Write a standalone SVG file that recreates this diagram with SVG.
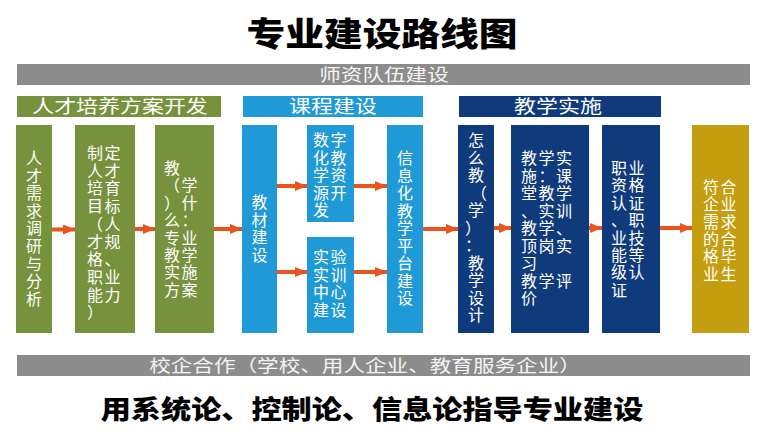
<svg xmlns="http://www.w3.org/2000/svg" width="770" height="438" viewBox="0 0 770 438">
<defs>
<style>
.cjk{font-family:"Noto Sans CJK SC","Noto Sans CJK JP",sans-serif;}
.title{font-size:31px;font-weight:900;fill:#000;}
.bar{fill:#8C8C8C;}
.bartxt{font-size:17px;fill:#F4F4F4;}
.hdr{font-size:18px;fill:#FFFFFF;}
.box{font-size:16px;fill:#FFFFFF;}
.ls{letter-spacing:1.5px;}
.green{fill:#76923C;}
.blue{fill:#1F9AD6;}
.navy{fill:#0F3B7C;}
.gold{fill:#C49E0E;}
.arr{stroke:#E9531D;stroke-width:4;fill:none;marker-end:url(#ah);}
.foot{font-size:26px;font-weight:900;fill:#000;}
</style>
<marker id="ah" viewBox="0 0 12 10" markerWidth="12" markerHeight="10" refX="12" refY="5" markerUnits="userSpaceOnUse" orient="auto">
<path d="M0,0 L12,5 L0,10 z" fill="#E9531D"/>
</marker>
</defs>
<rect width="770" height="438" fill="#FFFFFF"/>

<g id="title">
<text class="cjk title" text-anchor="middle" transform="translate(382,46) scale(1.25,1.05)">专业建设路线图</text>
</g>

<g id="teacher-bar">
<rect class="bar" x="17" y="64" width="733" height="21"/>
<text class="cjk bartxt" text-anchor="middle" transform="translate(384,81) scale(1.27,1)">师资队伍建设</text>
</g>

<g id="hdr-talent">
<rect class="green" x="17" y="96" width="204" height="21"/>
<text class="cjk hdr" text-anchor="middle" transform="translate(120,113) scale(1.22,1)">人才培养方案开发</text>
</g>
<g id="hdr-course">
<rect class="blue" x="243" y="96" width="180" height="21"/>
<text class="cjk hdr" text-anchor="middle" transform="translate(333,113) scale(1.22,1)">课程建设</text>
</g>
<g id="hdr-teach">
<rect class="navy" x="459" y="96" width="202" height="21"/>
<text class="cjk hdr" text-anchor="middle" transform="translate(558,113) scale(1.22,1)">教学实施</text>
</g>

<g id="connectors">
<line class="arr" x1="52" y1="229.5" x2="75" y2="229.5"/>
<line class="arr" x1="135" y1="229" x2="155" y2="229"/>
<line class="arr" x1="214" y1="229" x2="242" y2="229"/>
<line class="arr" x1="277" y1="186" x2="307" y2="186"/>
<line class="arr" x1="277" y1="272" x2="307" y2="272"/>
<line class="arr" x1="354" y1="186" x2="387" y2="186"/>
<line class="arr" x1="354" y1="272" x2="387" y2="272"/>
<line class="arr" x1="423" y1="229" x2="458" y2="229"/>
<line class="arr" x1="494" y1="228" x2="511" y2="228"/>
<line class="arr" x1="589" y1="228" x2="602" y2="228"/>
<line class="arr" x1="660" y1="228" x2="692" y2="228"/>
</g>

<g id="n1">
<rect class="green" x="16" y="125" width="36" height="208"/>
<text class="cjk box" text-anchor="middle"><tspan x="34" y="164">人</tspan><tspan x="34" dy="17.6">才</tspan><tspan x="34" dy="17.6">需</tspan><tspan x="34" dy="17.6">求</tspan><tspan x="34" dy="17.6">调</tspan><tspan x="34" dy="17.6">研</tspan><tspan x="34" dy="17.6">与</tspan><tspan x="34" dy="17.6">分</tspan><tspan x="34" dy="17.6">析</tspan></text>
</g>
<g id="n2">
<rect class="green" x="75" y="125" width="60" height="208"/>
<text class="cjk box ls"><tspan x="87" y="159">制定</tspan><tspan x="87" dy="17.7">人才</tspan><tspan x="87" dy="17.7">培育</tspan><tspan x="87" dy="17.7">目标</tspan><tspan x="87" dy="17.7">（人</tspan><tspan x="87" dy="17.7">才规</tspan><tspan x="87" dy="17.7">格、</tspan><tspan x="87" dy="17.7">职业</tspan><tspan x="87" dy="17.7">能力</tspan><tspan x="87" dy="17.7">）</tspan></text>
</g>
<g id="n3">
<rect class="green" x="155" y="125" width="59" height="208"/>
<text class="cjk box ls"><tspan x="164" y="174">教</tspan><tspan x="164" dy="17.4">（学</tspan><tspan x="164" dy="17.4">）什</tspan><tspan x="164" dy="17.4">么：</tspan><tspan x="164" dy="17.4">专业</tspan><tspan x="164" dy="17.4">教学</tspan><tspan x="164" dy="17.4">实施</tspan><tspan x="164" dy="17.4">方案</tspan></text>
</g>

<g id="n4">
<rect class="blue" x="242" y="125" width="35" height="208"/>
<text class="cjk box" text-anchor="middle"><tspan x="259.5" y="208">教</tspan><tspan x="259.5" dy="17.5">材</tspan><tspan x="259.5" dy="17.5">建</tspan><tspan x="259.5" dy="17.5">设</tspan></text>
</g>
<g id="n5">
<rect class="blue" x="307" y="125" width="47" height="97"/>
<text class="cjk box ls"><tspan x="313" y="146">数字</tspan><tspan x="313" dy="17.5">化教</tspan><tspan x="313" dy="17.5">学资</tspan><tspan x="313" dy="17.5">源开</tspan><tspan x="313" dy="17.5">发</tspan></text>
</g>
<g id="n6">
<rect class="blue" x="307" y="237" width="47" height="96"/>
<text class="cjk box ls"><tspan x="313" y="263">实验</tspan><tspan x="313" dy="17.7">实训</tspan><tspan x="313" dy="17.7">中心</tspan><tspan x="313" dy="17.7">建设</tspan></text>
</g>
<g id="n7">
<rect class="blue" x="387" y="125" width="36" height="208"/>
<text class="cjk box" text-anchor="middle"><tspan x="405" y="164">信</tspan><tspan x="405" dy="17.5">息</tspan><tspan x="405" dy="17.5">化</tspan><tspan x="405" dy="17.5">教</tspan><tspan x="405" dy="17.5">学</tspan><tspan x="405" dy="17.5">平</tspan><tspan x="405" dy="17.5">台</tspan><tspan x="405" dy="17.5">建</tspan><tspan x="405" dy="17.5">设</tspan></text>
</g>

<g id="n8">
<rect class="navy" x="458" y="125" width="36" height="208"/>
<text class="cjk box" text-anchor="middle"><tspan x="476" y="146">怎</tspan><tspan x="476" dy="17.5">么</tspan><tspan x="476" dy="17.5">教</tspan><tspan x="479" dy="17.5">（</tspan><tspan x="476" dy="17.5">学</tspan><tspan x="473" dy="17.5">）</tspan><tspan x="473" dy="17.5">：</tspan><tspan x="476" dy="17.5">教</tspan><tspan x="476" dy="17.5">学</tspan><tspan x="476" dy="17.5">设</tspan><tspan x="476" dy="17.5">计</tspan></text>
</g>
<g id="n9">
<rect class="navy" x="511" y="125" width="78" height="208"/>
<text class="cjk box ls"><tspan x="521" y="164">教学实</tspan><tspan x="521" dy="17.5">施：课</tspan><tspan x="521" dy="17.5">堂教学</tspan><tspan x="521" dy="17.5">、实训</tspan><tspan x="521" dy="17.5">教学、</tspan><tspan x="521" dy="17.5">顶岗实</tspan><tspan x="521" dy="17.5">习</tspan><tspan x="521" dy="17.5">教学评</tspan><tspan x="521" dy="17.5">价</tspan></text>
</g>
<g id="n10">
<rect class="navy" x="602" y="125" width="58" height="208"/>
<text class="cjk box ls"><tspan x="611" y="174">职业</tspan><tspan x="611" dy="17.4">资格</tspan><tspan x="611" dy="17.4">认证</tspan><tspan x="611" dy="17.4">、职</tspan><tspan x="611" dy="17.4">业技</tspan><tspan x="611" dy="17.4">能等</tspan><tspan x="611" dy="17.4">级认</tspan><tspan x="611" dy="17.4">证</tspan></text>
</g>
<g id="n11">
<rect class="gold" x="692" y="125" width="57" height="208"/>
<text class="cjk box ls"><tspan x="703" y="193">符合</tspan><tspan x="703" dy="17.3">企业</tspan><tspan x="703" dy="17.3">需求</tspan><tspan x="703" dy="17.3">的合</tspan><tspan x="703" dy="17.3">格毕</tspan><tspan x="703" dy="17.3">业生</tspan></text>
</g>

<g id="coop-bar">
<rect class="bar" x="17" y="355" width="733" height="21"/>
<text class="cjk bartxt" text-anchor="middle" transform="translate(365,372) scale(1.27,1)">校企合作（学校、用人企业、教育服务企业）</text>
</g>

<g id="footer">
<text class="cjk foot" text-anchor="middle" transform="translate(372,419) scale(1.16,1)">用系统论、控制论、信息论指导专业建设</text>
</g>
</svg>
